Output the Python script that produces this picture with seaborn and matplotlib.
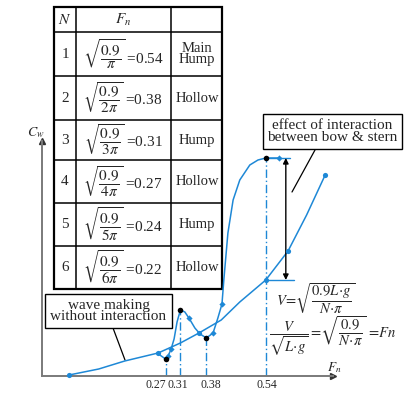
import numpy as np
import pandas as pd
import matplotlib
matplotlib.use("Agg")
import matplotlib.pyplot as plt
import matplotlib.transforms as mtransforms
from matplotlib.patches import Rectangle
import seaborn as sns

# ---------------- data ----------------
# wave making without interaction (smooth curve)
fn_plain = [0.01, 0.09, 0.16, 0.25, 0.31, 0.36, 0.42, 0.47, 0.54, 0.60, 0.65, 0.70]
cw_plain = [0.01, 0.07, 0.15, 0.23, 0.33, 0.43, 0.56, 0.74, 0.96, 1.25, 1.61, 2.01]
plain_marked = [0, 3, 5, 8, 9, 11]

# wave making with bow/stern interaction
fn_inter = [0.247, 0.27, 0.277, 0.285, 0.293, 0.301, 0.31, 0.322, 0.333, 0.349, 0.363,
            0.38, 0.398, 0.411, 0.422, 0.427, 0.438, 0.452, 0.470, 0.497, 0.519, 0.54, 0.576]
cw_inter = [0.23, 0.17, 0.20, 0.27, 0.37, 0.54, 0.66, 0.64, 0.58, 0.48, 0.42,
            0.38, 0.43, 0.58, 0.72, 0.96, 1.43, 1.76, 1.96, 2.11, 2.16, 2.18, 2.18]
inter_marked = [2, 3, 8, 12, 14, 22]

# humps & hollows
fn_key = [0.27, 0.31, 0.38, 0.54]
cw_key = [0.17, 0.66, 0.38, 2.18]
tick_labels = ["0.27", "0.31", "0.38", "0.54"]

# table
table_n = [1, 2, 3, 4, 5, 6]
table_denom = [r"\pi", r"2\pi", r"3\pi", r"4\pi", r"5\pi", r"6\pi"]
table_fn = [0.54, 0.38, 0.31, 0.27, 0.24, 0.22]
table_kind = ["Main\nHump", "Hollow", "Hump", "Hollow", "Hump", "Hollow"]

# ---------------- style ----------------
sns.set_theme(style="white")
plt.rcParams["font.family"] = ["Liberation Serif", "DejaVu Serif"]
plt.rcParams["mathtext.fontset"] = "stix"

BLUE = "#1e88d6"
GREY = "#7a7a7a"

fig = plt.figure(figsize=(4.16, 3.94), dpi=100)
fig.patch.set_facecolor("white")

# overlay in pixel coordinates for table / annotation boxes
ov = fig.add_axes([0, 0, 1, 1])
ov.set_xlim(0, 416)
ov.set_ylim(394, 0)
ov.axis("off")

# main chart axes
ax = fig.add_axes([42 / 416, 18 / 394, 291 / 416, 235 / 394])
ax.patch.set_alpha(0)
ax.set_xlim(-0.0628, 0.7211)
ax.set_ylim(0, 2.35)

df_plain = pd.DataFrame({"Fn": fn_plain, "Cw": cw_plain})
df_inter = pd.DataFrame({"Fn": fn_inter, "Cw": cw_inter})

sns.lineplot(data=df_plain, x="Fn", y="Cw", sort=False, estimator=None,
             color=BLUE, lw=1.1, ax=ax)
sns.lineplot(data=df_inter, x="Fn", y="Cw", sort=False, estimator=None,
             color=BLUE, lw=1.1, ax=ax)
sns.scatterplot(data=df_plain.iloc[plain_marked], x="Fn", y="Cw", color=BLUE,
                s=14, linewidth=0, ax=ax, zorder=4, clip_on=False)
sns.scatterplot(data=df_inter.iloc[inter_marked], x="Fn", y="Cw", color=BLUE,
                marker="D", s=10, linewidth=0, ax=ax, zorder=4)

# dash-dot drop lines from humps & hollows
for f, c in zip(fn_key, cw_key):
    ax.plot([f, f], [0, c], color=BLUE, lw=1.0, ls=(0, (6, 2, 1, 2)), zorder=2)
sns.scatterplot(x=fn_key, y=cw_key, color="black", s=16, linewidth=0, ax=ax, zorder=5)

# interaction effect: extension lines and double arrow
main_f = fn_key[-1]
top_c = cw_key[-1]
low_c = cw_plain[fn_plain.index(main_f)]
ax.plot([main_f, 0.605], [top_c, top_c], color=BLUE, lw=1.0)
ax.plot([main_f, 0.616], [low_c, low_c], color=BLUE, lw=1.0)
ax.annotate("", xy=(0.594, top_c), xytext=(0.594, low_c),
            arrowprops=dict(arrowstyle="<|-|>", color="black", lw=1.0,
                            mutation_scale=8, shrinkA=0, shrinkB=0))

# axes styling
for s in ["top", "right"]:
    ax.spines[s].set_visible(False)
for s in ["left", "bottom"]:
    ax.spines[s].set_color(GREY)
    ax.spines[s].set_linewidth(1.4)
ax.set_yticks([])
ax.set_xticks(fn_key, labels=tick_labels)
ax.tick_params(axis="x", length=0, pad=2, labelsize=8.5)
offsets = [-10, -3, 4, 1]
for lab, dx in zip(ax.get_xticklabels(), offsets):
    lab.set_transform(lab.get_transform() +
                      mtransforms.ScaledTranslation(dx / 100, 0, fig.dpi_scale_trans))
ax.set_xlabel("")
ax.set_ylabel("")
ax.plot([0], [1], marker="^", color="#333333", ms=5, transform=ax.transAxes, clip_on=False)
ax.plot([1], [0], marker=">", color="#333333", ms=5, transform=ax.transAxes, clip_on=False)

ov.text(36, 133, r"$C_w$", fontsize=10, ha="center", va="center")
ov.text(334, 368, r"$F_n$", fontsize=9.5, ha="center", va="center")

# ---------------- table ----------------
col_x = [54, 76, 171, 222]
row_y = [7, 32, 76, 120, 160, 203, 246, 289]
for x in col_x:
    ov.plot([x, x], [row_y[0], row_y[-1]], color="black", lw=1.1)
for y in row_y:
    ov.plot([col_x[0], col_x[-1]], [y, y], color="black", lw=1.1)
ov.add_patch(Rectangle((col_x[0], row_y[0]), col_x[-1] - col_x[0], row_y[-1] - row_y[0],
                       fill=False, ec="black", lw=1.6))
ov.text(65, 20, r"$N$", fontsize=11, ha="center", va="center")
ov.text(123, 20, r"$F_n$", fontsize=11, ha="center", va="center")
for i, (n, d, v, k) in enumerate(zip(table_n, table_denom, table_fn, table_kind)):
    yc = (row_y[i + 1] + row_y[i + 2]) / 2
    ov.text(65, yc, str(n), fontsize=11, ha="center", va="center")
    ov.text(123, yc, rf"$\sqrt{{\dfrac{{0.9}}{{{d}}}}}$ ={v:.2f}", fontsize=11,
            ha="center", va="center")
    ov.text(197, yc, k, fontsize=10.5, ha="center", va="center", linespacing=0.85)

# ---------------- annotation boxes ----------------
ov.add_patch(Rectangle((45, 294), 127, 34, fc="white", ec="black", lw=1.0, zorder=3))
ov.text(108.5, 311, "wave making\nwithout interaction", fontsize=11, ha="center",
        va="center", linespacing=0.85, zorder=4)
ov.plot([113, 125], [328, 360], color="black", lw=0.9)

ov.add_patch(Rectangle((263, 114), 139, 35, fc="white", ec="black", lw=1.0, zorder=3))
ov.text(332.5, 131.5, "effect of interaction\nbetween bow & stern", fontsize=11,
        ha="center", va="center", linespacing=0.85, zorder=4)
ov.plot([315, 292], [150, 192], color="black", lw=0.9)

# formulas
ov.text(316, 299, r"$V\!=\!\sqrt{\dfrac{0.9L\!\cdot\! g}{N\!\cdot\!\pi}}$", fontsize=10.5,
        ha="center", va="center")
ov.text(333, 336, r"$\dfrac{V}{\sqrt{L\!\cdot\! g}}=\!\sqrt{\dfrac{0.9}{N\!\cdot\!\pi}}\,=\!Fn$",
        fontsize=10.5, ha="center", va="center")

fig.savefig("out.png", dpi=100, facecolor="white")
